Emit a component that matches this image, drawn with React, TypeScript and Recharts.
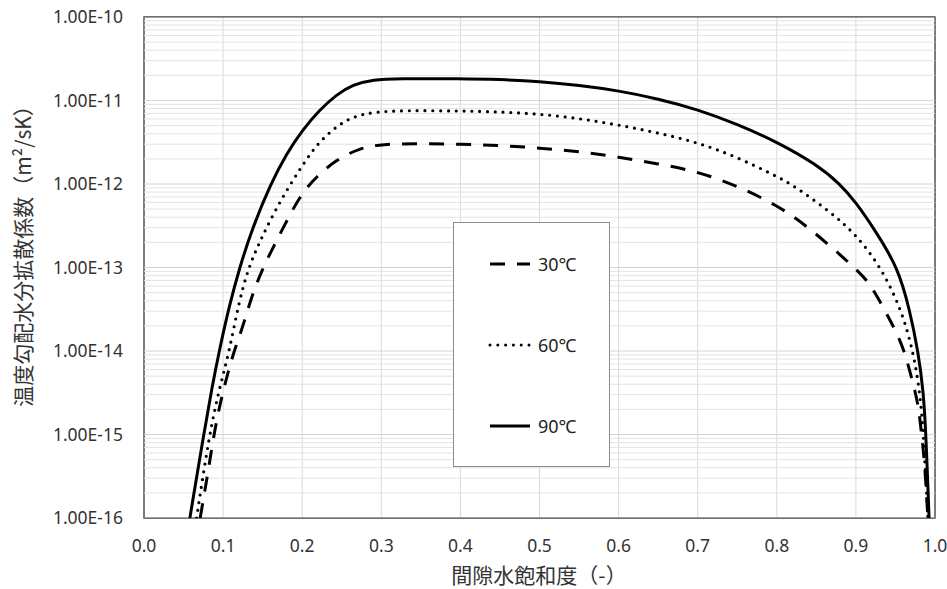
import { LineChart, Line, XAxis, YAxis, CartesianGrid, ReferenceLine, ReferenceArea, Legend } from "recharts";

// 間隙水飽和度 (x) と 温度勾配水分拡散係数 (y)
const sat30 = [0.071, 0.0815, 0.092, 0.107, 0.1155, 0.126, 0.136, 0.149, 0.164, 0.181, 0.198, 0.218, 0.243, 0.273, 0.3, 0.35, 0.4, 0.45, 0.5, 0.55, 0.6, 0.65, 0.7, 0.75, 0.8, 0.8375, 0.8986, 0.9175, 0.934, 0.949, 0.9615, 0.97, 0.9787, 0.983, 0.987, 0.991];
const dif30 = [1e-16, 3.8e-16, 1.65e-15, 6e-15, 1.1e-14, 2.1e-14, 4.5e-14, 9.3e-14, 1.8e-13, 3.7e-13, 7.4e-13, 1.23e-12, 1.95e-12, 2.7e-12, 3.0e-12, 3.05e-12, 3.0e-12, 2.9e-12, 2.7e-12, 2.45e-12, 2.1e-12, 1.75e-12, 1.41e-12, 9.5e-13, 5.6e-13, 3.2e-13, 1e-13, 6.5e-14, 3.4e-14, 1.85e-14, 1e-14, 4.9e-15, 2.4e-15, 1e-15, 4.6e-16, 1e-16];

const sat60 = [0.0665, 0.0825, 0.096, 0.108, 0.1195, 0.132, 0.146, 0.164, 0.185, 0.2085, 0.222, 0.243, 0.264, 0.29, 0.33, 0.4, 0.45, 0.5, 0.55, 0.6, 0.65, 0.7, 0.75, 0.8, 0.8186, 0.867, 0.9, 0.932, 0.9577, 0.9723, 0.981, 0.9855, 0.991];
const dif60 = [1e-16, 1e-15, 3.8e-15, 1e-14, 3.7e-14, 1e-13, 2.0e-13, 4.5e-13, 1e-12, 2.2e-12, 3.2e-12, 4.9e-12, 6.4e-12, 7.3e-12, 7.6e-12, 7.5e-12, 7.3e-12, 6.9e-12, 6.1e-12, 5.1e-12, 4.1e-12, 3.15e-12, 2.1e-12, 1.23e-12, 1e-12, 4.7e-13, 2.5e-13, 1e-13, 3.1e-14, 1e-14, 3.2e-15, 1e-15, 1e-16];

const sat90 = [0.058, 0.0755, 0.0856, 0.095, 0.1085, 0.121, 0.136, 0.16, 0.18, 0.2, 0.222, 0.243, 0.264, 0.29, 0.32, 0.4, 0.45, 0.5, 0.55, 0.6, 0.65, 0.7, 0.75, 0.8, 0.85, 0.88, 0.9008, 0.924, 0.9533, 0.968, 0.9786, 0.9855, 0.9884, 0.9905, 0.9925];
const dif90 = [1e-16, 1e-15, 3.5e-15, 1e-14, 3.7e-14, 1e-13, 2.8e-13, 1e-12, 2.3e-12, 4.4e-12, 7.7e-12, 1.17e-11, 1.55e-11, 1.78e-11, 1.83e-11, 1.83e-11, 1.79e-11, 1.69e-11, 1.52e-11, 1.31e-11, 1.05e-11, 7.8e-12, 5.2e-12, 3.2e-12, 1.72e-12, 1e-12, 5.9e-13, 2.8e-13, 1e-13, 3.1e-14, 1e-14, 3.2e-15, 1e-15, 3.2e-16, 1e-16];

const xTicks = [0, 0.1, 0.2, 0.3, 0.4, 0.5, 0.6, 0.7, 0.8, 0.9, 1.0];
const yTicks = [1e-16, 1e-15, 1e-14, 1e-13, 1e-12, 1e-11, 1e-10];
const minorMult = [2, 3, 4, 5, 6, 7, 8, 9];
const names = ["30℃", "60℃", "90℃"];

const toRows = (xs: number[], ys: number[]) => xs.map((s, i) => ({ s, d: ys[i] }));
const minorTicks = yTicks.slice(0, -1).flatMap((d) => minorMult.map((m) => d * m));

const FONT = '"Noto Sans", "Noto Sans CJK JP", sans-serif';
const CJK = '"Noto Sans CJK JP", "Noto Sans", sans-serif';
const TXT = "#333";

const dashes = ["15 12", "0 7.8", undefined];

function YTitle() {
  return (
    <text x={22} y={251} transform="rotate(-90 22 251)" textAnchor="middle" dominantBaseline="central"
      fontFamily={CJK} fontSize={21} fill={TXT}>
      温度勾配水分拡散係数（m²/sK）
    </text>
  );
}

function XTitle() {
  return (
    <text x={539} y={583} textAnchor="middle" fontFamily={CJK} fontSize={21} fill={TXT}>
      間隙水飽和度（-）
    </text>
  );
}

function LegendBox() {
  const rows = [41, 122, 203];
  return (
    <div style={{ position: "relative", width: 157, height: 245, border: "1px solid #8c8c8c", background: "#fff", boxSizing: "border-box" }}>
      {names.map((n, i) => (
        <div key={n} style={{ position: "absolute", left: 34, top: rows[i] - 12, height: 24, display: "flex", alignItems: "center" }}>
          <svg width={44} height={10}>
            <line x1={2} y1={5} x2={42} y2={5} stroke="#000" strokeWidth={3}
              strokeDasharray={dashes[i]} strokeLinecap={i === 1 ? "round" : "butt"} />
          </svg>
          <span style={{ fontFamily: FONT, fontSize: 18, color: "#222", marginLeft: 6 }}>{n}</span>
        </div>
      ))}
    </div>
  );
}

export default function App() {
  return (
    <div style={{ position: "absolute", left: 0, top: 0, width: 947, height: 589, background: "#fff" }}>
      <LineChart width={947} height={589} margin={{ top: 17, right: 12, bottom: 0, left: 0 }}>
        <CartesianGrid stroke="#d9d9d9" horizontal={false} />
        {minorTicks.map((v) => (
          <ReferenceLine key={v} y={v} stroke="#e3e3e3" strokeWidth={1} ifOverflow="hidden" />
        ))}
        {yTicks.map((v) => (
          <ReferenceLine key={"m" + v} y={v} stroke="#d4d4d4" strokeWidth={1} ifOverflow="hidden" />
        ))}
        <XAxis
          type="number"
          dataKey="s"
          domain={[0, 1]}
          ticks={xTicks}
          tickFormatter={(v: number) => v.toFixed(1)}
          height={71}
          axisLine={false}
          tickLine={false}
          tickSize={0}
          tickMargin={22}
          tick={{ fontFamily: FONT, fontSize: 17.5, fill: TXT }}
          allowDataOverflow
          label={XTitle}
        />
        <YAxis
          type="number"
          scale="log"
          domain={[1e-16, 1e-10]}
          ticks={yTicks}
          tickFormatter={(v: number) => v.toExponential(2).toUpperCase()}
          width={144}
          axisLine={false}
          tickLine={false}
          tickSize={0}
          tickMargin={21}
          tick={{ fontFamily: FONT, fontSize: 17.5, fill: TXT }}
          allowDataOverflow
          label={YTitle}
        />
        <Line data={toRows(sat30, dif30)} dataKey="d" name={names[0]} type="basis" stroke="#000" strokeWidth={3}
          strokeDasharray={dashes[0]} dot={false} activeDot={false} isAnimationActive={false} />
        <Line data={toRows(sat60, dif60)} dataKey="d" name={names[1]} type="basis" stroke="#000" strokeWidth={3.2}
          strokeDasharray={dashes[1]} strokeLinecap="round" dot={false} activeDot={false} isAnimationActive={false} />
        <Line data={toRows(sat90, dif90)} dataKey="d" name={names[2]} type="basis" stroke="#000" strokeWidth={3}
          dot={false} activeDot={false} isAnimationActive={false} />
        <ReferenceArea x1={0} x2={1} y1={1e-16} y2={1e-10} fill="none" fillOpacity={0} stroke="#404040" strokeWidth={1.3} ifOverflow="visible" />
        <Legend layout="vertical" align="center" verticalAlign="middle" content={LegendBox}
          wrapperStyle={{ left: 453, top: 222, width: 157, height: 245 }} />
      </LineChart>
    </div>
  );
}
